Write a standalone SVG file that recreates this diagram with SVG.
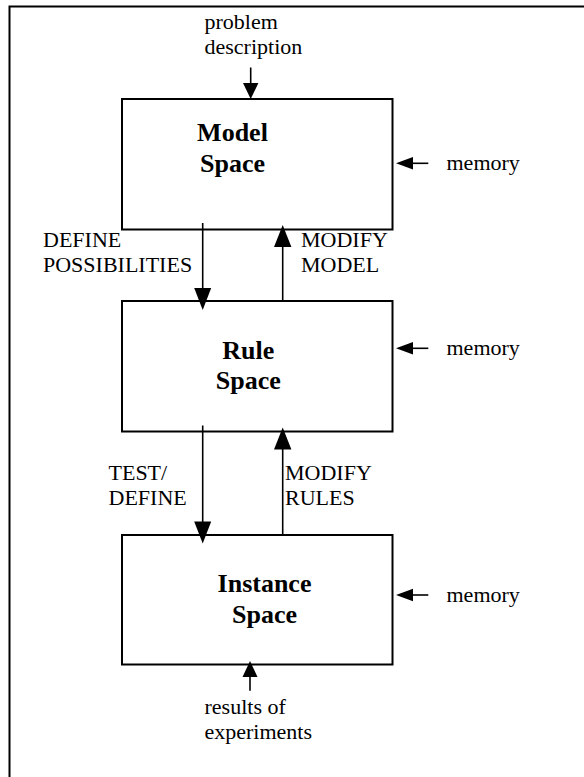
<svg xmlns="http://www.w3.org/2000/svg" width="584" height="777" viewBox="0 0 584 777">
<style>
.box{fill:#fff;stroke:#000;stroke-width:2}
.ln{fill:none;stroke:#000;stroke-width:1.6}
.hd{fill:#000;stroke:none}
.t{font-family:"Liberation Serif","Times New Roman",serif;font-size:22px;fill:#000}
.b{font-family:"Liberation Serif","Times New Roman",serif;font-size:26px;font-weight:bold;fill:#000;text-anchor:middle}
</style>
<rect width="584" height="777" fill="#fff"/>
<path d="M9.5,777 V6.5 H584" fill="none" stroke="#000" stroke-width="2"/>
<g id="model">
<rect class="box" x="122" y="99" width="270.5" height="130.5"/>
<text class="b" x="232.5" y="141">Model</text>
<text class="b" x="232.5" y="172">Space</text>
</g>
<g id="rule">
<rect class="box" x="122" y="301" width="270.5" height="130.5"/>
<text class="b" x="248.3" y="358.5">Rule</text>
<text class="b" x="248.3" y="389">Space</text>
</g>
<g id="instance">
<rect class="box" x="122" y="535" width="270.5" height="129.5"/>
<text class="b" x="264.5" y="592">Instance</text>
<text class="b" x="264.5" y="623">Space</text>
</g>
<g id="inputs">
<text class="t" x="204.5" y="28.5">problem</text>
<text class="t" x="204.5" y="53.5">description</text>
<text class="t" x="446.5" y="169.5">memory</text>
<text class="t" x="446.5" y="355">memory</text>
<text class="t" x="446.5" y="602">memory</text>
<text class="t" x="204.5" y="713.5">results of</text>
<text class="t" x="204.5" y="738.5">experiments</text>
</g>
<g id="labels">
<text class="t" x="43" y="247">DEFINE</text>
<text class="t" x="43" y="272">POSSIBILITIES</text>
<text class="t" x="301" y="247">MODIFY</text>
<text class="t" x="301" y="272">MODEL</text>
<text class="t" x="108.5" y="479.5">TEST/</text>
<text class="t" x="108.5" y="505">DEFINE</text>
<text class="t" x="285" y="479.5">MODIFY</text>
<text class="t" x="285" y="505">RULES</text>
</g>
<g id="connectors">
<line class="ln" x1="250.7" y1="67.5" x2="250.7" y2="85"/>
<polygon class="hd" points="243,83 258.4,83 250.7,99"/>
<line class="ln" x1="202.7" y1="223" x2="202.7" y2="290"/>
<polygon class="hd" points="194.2,288 211.2,288 202.7,310"/>
<line class="ln" x1="282.7" y1="245" x2="282.7" y2="301"/>
<polygon class="hd" points="274,247 291.4,247 282.7,225"/>
<line class="ln" x1="202.7" y1="425.5" x2="202.7" y2="524"/>
<polygon class="hd" points="194.2,521.5 211.2,521.5 202.7,543.5"/>
<line class="ln" x1="282.7" y1="448" x2="282.7" y2="535"/>
<polygon class="hd" points="274,449.5 291.4,449.5 282.7,427.5"/>
<line class="ln" x1="250" y1="676" x2="250" y2="690.7"/>
<polygon class="hd" points="242.5,677 257.5,677 250,661"/>
<line class="ln" x1="411" y1="163.3" x2="428.3" y2="163.3"/>
<polygon class="hd" points="396,163.3 413,157 413,169.6"/>
<line class="ln" x1="411" y1="348.3" x2="428.3" y2="348.3"/>
<polygon class="hd" points="396,348.3 413,342 413,354.6"/>
<line class="ln" x1="411" y1="595" x2="428.3" y2="595"/>
<polygon class="hd" points="396,595 413,588.7 413,601.3"/>
</g>
</svg>
